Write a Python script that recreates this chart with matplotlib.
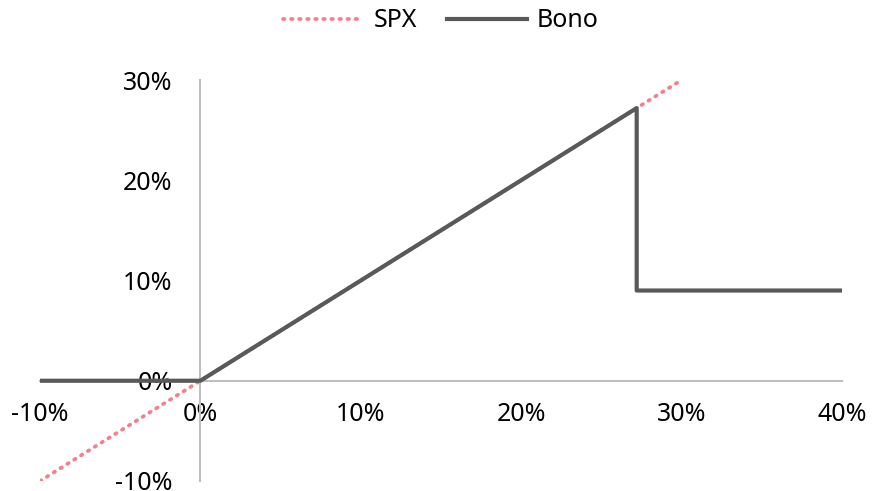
import numpy as np
import matplotlib.pyplot as plt
from matplotlib.ticker import FuncFormatter

plt.rcParams['font.family'] = ['Noto Sans', 'DejaVu Sans']

# data (percent)
spx_x = [-10, 30]
spx_y = [-10, 30]
bono_x = [-10, 0, 27.2, 27.2, 40]
bono_y = [0, 0, 27.2, 9, 9]
x_ticks = [-10, 0, 10, 20, 30, 40]
y_ticks = [-10, 0, 10, 20, 30]

fig = plt.figure(figsize=(8.72, 4.91), dpi=100)
ax = fig.add_axes([40/872, 10/491, 802/872, 401/491])

ax.plot(spx_x, spx_y, color="#f4808c", linestyle=(0, (0.4, 1.75)), linewidth=2.7,
        dash_capstyle="round", label="SPX", zorder=2)
ax.plot(bono_x, bono_y, color="#595959", linewidth=3, label="Bono", zorder=3)

ax.set_xlim(-10, 40)
ax.set_ylim(-10, 30)
ax.set_xticks(x_ticks)
ax.set_yticks(y_ticks)
fmt = FuncFormatter(lambda v, p: f"{v:.0f}%")
ax.xaxis.set_major_formatter(fmt)
ax.yaxis.set_major_formatter(fmt)

for s in ["top", "right"]:
    ax.spines[s].set_visible(False)
ax.spines["left"].set_position(("data", 0))
ax.spines["bottom"].set_position(("data", 0))
for s in ["left", "bottom"]:
    ax.spines[s].set_color("#bfbfbf")
    ax.spines[s].set_linewidth(1.5)
ax.tick_params(axis="both", length=0, labelsize=18, colors="black")
ax.tick_params(axis="x", pad=15)
ax.tick_params(axis="y", pad=20)

ax.legend(loc="upper center", bbox_to_anchor=(0.5, 1.235), ncol=2, frameon=False,
          fontsize=18, handlelength=3.2, columnspacing=1.2, handletextpad=0.4)

plt.savefig("out.png", dpi=100)
